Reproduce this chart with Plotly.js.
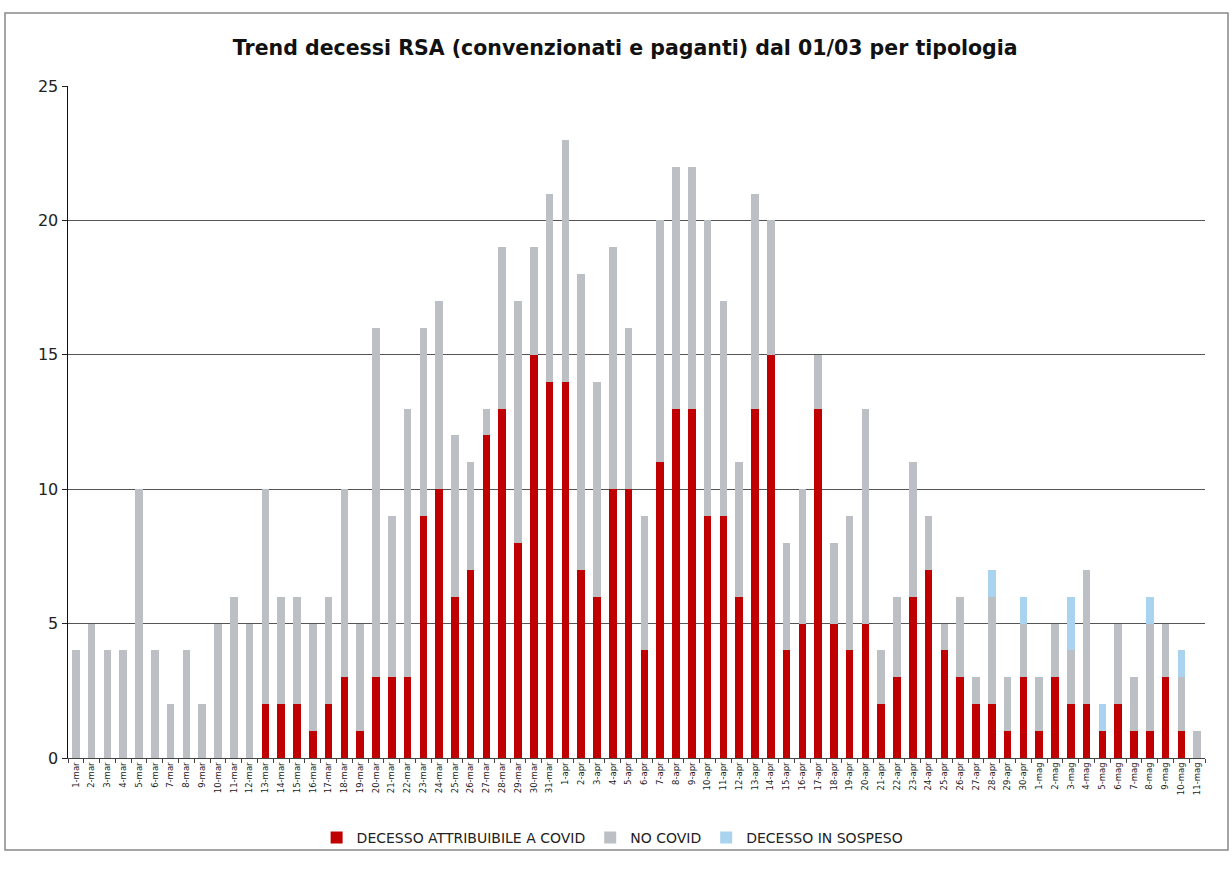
<!DOCTYPE html>
<html>
<head>
<meta charset="utf-8">
<script src="https://cdn.plot.ly/plotly-3.0.1.min.js"></script>
<style>html,body{margin:0;padding:0;background:#fff;}#chart{width:1232px;height:870px;}</style>
</head>
<body>
<div id="chart"></div>
<script>
const categories = [
  "1-mar","2-mar","3-mar","4-mar","5-mar","6-mar","7-mar","8-mar","9-mar","10-mar",
  "11-mar","12-mar","13-mar","14-mar","15-mar","16-mar","17-mar","18-mar","19-mar","20-mar",
  "21-mar","22-mar","23-mar","24-mar","25-mar","26-mar","27-mar","28-mar","29-mar","30-mar","31-mar",
  "1-apr","2-apr","3-apr","4-apr","5-apr","6-apr","7-apr","8-apr","9-apr","10-apr",
  "11-apr","12-apr","13-apr","14-apr","15-apr","16-apr","17-apr","18-apr","19-apr","20-apr",
  "21-apr","22-apr","23-apr","24-apr","25-apr","26-apr","27-apr","28-apr","29-apr","30-apr",
  "1-mag","2-mag","3-mag","4-mag","5-mag","6-mag","7-mag","8-mag","9-mag","10-mag","11-mag"
];
const covid = [
  0,0,0,0,0,0,0,0,0,0,
  0,0,2,2,2,1,2,3,1,3,
  3,3,9,10,6,7,12,13,8,15,14,
  14,7,6,10,10,4,11,13,13,9,
  9,6,13,15,4,5,13,5,4,5,
  2,3,6,7,4,3,2,2,1,3,
  1,3,2,2,1,2,1,1,3,1,0
];
const noCovid = [
  4,5,4,4,10,4,2,4,2,5,
  6,5,8,4,4,4,4,7,4,13,
  6,10,7,7,6,4,1,6,9,4,7,
  9,11,8,9,6,5,9,9,9,11,
  8,5,8,5,4,5,2,3,5,8,
  2,3,5,2,1,3,1,4,2,2,
  2,2,2,5,0,3,2,4,2,2,1
];
const sospeso = [
  0,0,0,0,0,0,0,0,0,0,
  0,0,0,0,0,0,0,0,0,0,
  0,0,0,0,0,0,0,0,0,0,0,
  0,0,0,0,0,0,0,0,0,0,
  0,0,0,0,0,0,0,0,0,0,
  0,0,0,0,0,0,0,1,0,1,
  0,0,2,0,1,0,0,1,0,1,0
];
const seriesNames = ["DECESSO ATTRIBUIBILE A COVID", "NO COVID", "DECESSO IN SOSPESO"];
const yTicks = [0, 5, 10, 15, 20, 25];

const mk = (y, name, color) => ({
  type: 'bar', x: categories, y: y, name: name,
  marker: {color: color, line: {width: 0}},
  hoverinfo: 'x+y+name'
});
const data = [
  mk(covid, seriesNames[0], '#C00000'),
  mk(noCovid, seriesNames[1], '#BCBFC4'),
  mk(sospeso, seriesNames[2], '#A9D3EE')
];
const fontFam = '"DejaVu Sans", "Noto Sans", sans-serif';
const pw = 1137, ph = 672;
const layout = {
  width: 1232, height: 870,
  margin: {l: 68, r: 27, t: 86, b: 112},
  paper_bgcolor: '#fff', plot_bgcolor: '#fff',
  barmode: 'stack', bargap: 0.52,
  title: {text: '<b>Trend decessi RSA (convenzionati e paganti) dal 01/03 per tipologia</b>',
          font: {family: fontFam, size: 20.5, color: '#111'},
          x: 0.5075, xanchor: 'center', y: 0.945, yanchor: 'middle'},
  xaxis: {
    type: 'category', tickangle: -90, tickfont: {family: fontFam, size: 8.5, color: '#222'},
    ticks: 'outside', tickson: 'boundaries', ticklen: 4, tickcolor: '#444',
    showline: true, linecolor: '#444', linewidth: 1, showgrid: false,
    automargin: false
  },
  yaxis: {
    range: [0, 25], tickvals: yTicks, ticktext: yTicks.map(String),
    tickfont: {family: fontFam, size: 16, color: '#222'},
    ticks: 'outside', ticklen: 5, tickcolor: '#222',
    showline: true, linecolor: '#111', linewidth: 1.5,
    showgrid: true, gridcolor: '#555', gridwidth: 1, zeroline: false,
    automargin: false
  },
  legend: {orientation: 'h', x: 0.479, xanchor: 'center', y: -0.119, yanchor: 'middle',
           bgcolor: 'rgba(0,0,0,0)',
           font: {family: fontFam, size: 14, color: '#222'}, itemwidth: 30, traceorder: 'normal'},
  shapes: [{
    type: 'rect', xref: 'paper', yref: 'paper',
    x0: (5 - 68) / pw, x1: (1228 - 68) / pw,
    y0: (758 - 850) / ph, y1: (758 - 13) / ph,
    line: {color: '#888', width: 1.5}, fillcolor: 'rgba(0,0,0,0)', layer: 'below'
  }],
  showlegend: true
};
Plotly.newPlot('chart', data, layout, {displayModeBar: false, staticPlot: true});
</script>
</body>
</html>
